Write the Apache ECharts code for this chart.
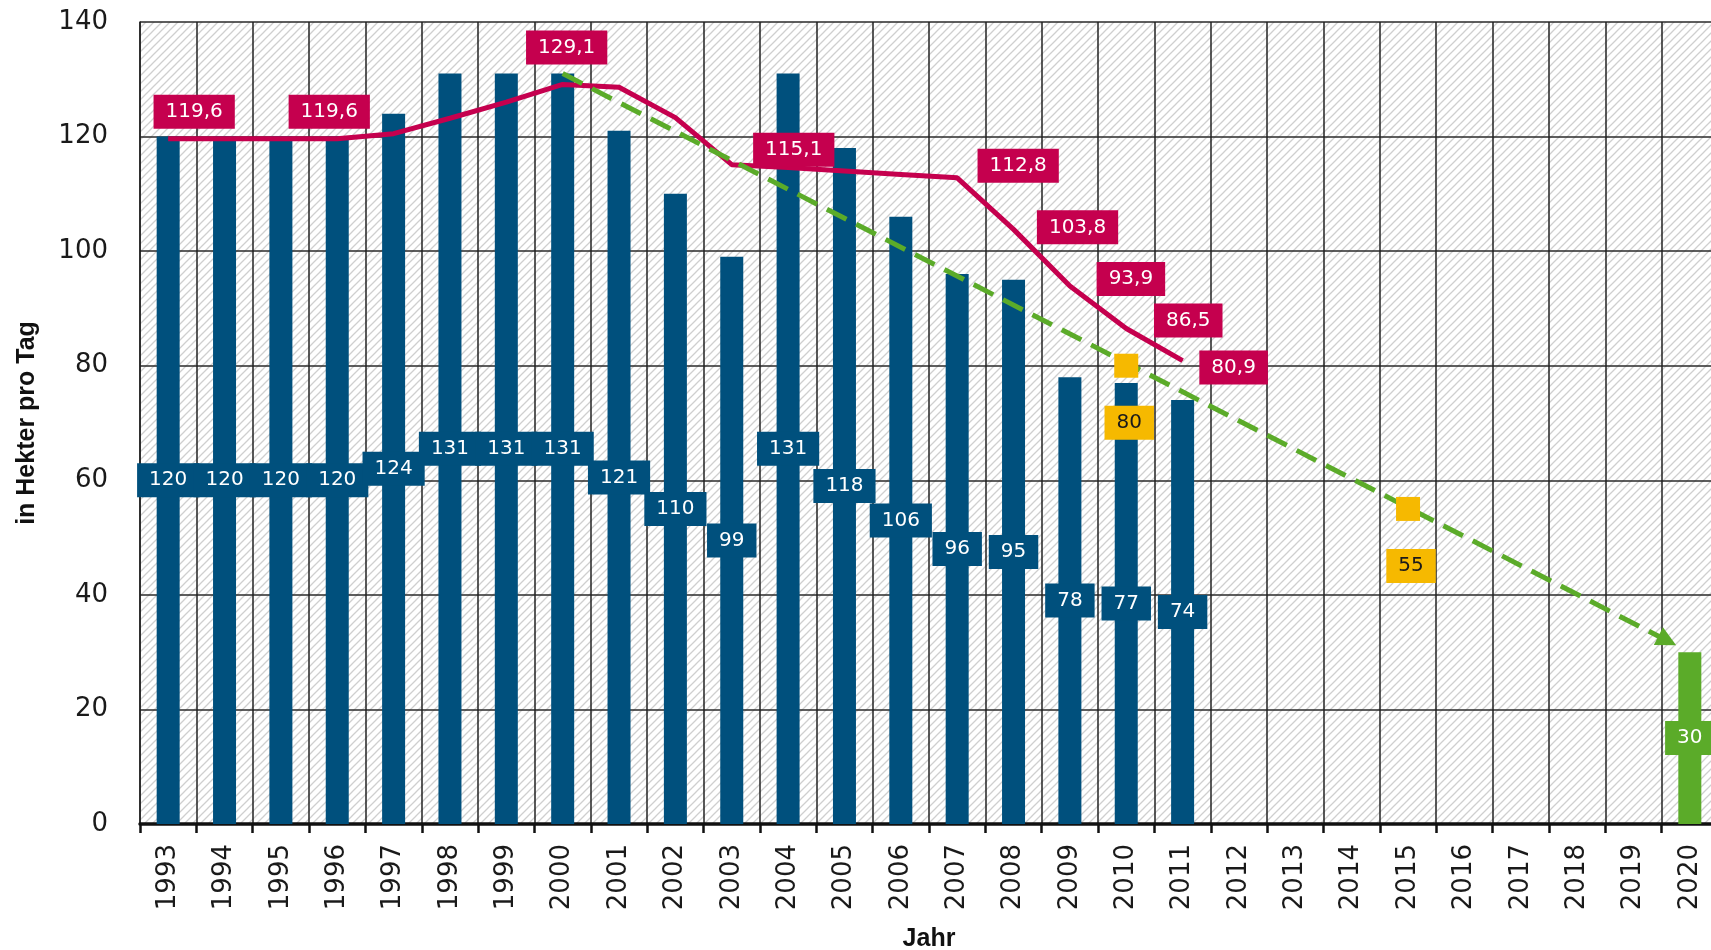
<!DOCTYPE html>
<html>
<head>
<meta charset="utf-8">
<script src="https://cdn.jsdelivr.net/npm/echarts@6/dist/echarts.min.js"></script>
<style>
html,body{margin:0;padding:0;background:#fff;}
#chart{width:1711px;height:950px;}
</style>
</head>
<body>
<div id="chart"></div>
<script>
// ---- data ----
const years = ['1993','1994','1995','1996','1997','1998','1999','2000','2001','2002','2003','2004','2005','2006','2007','2008','2009','2010','2011','2012','2013','2014','2015','2016','2017','2018','2019','2020'];
const flaeche = [120,120,120,120,124,131,131,131,121,110,99,131,118,106,96,95,78,77,74,null,null,null,null,null,null,null,null,null];
const ziel2020 = [null,null,null,null,null,null,null,null,null,null,null,null,null,null,null,null,null,null,null,null,null,null,null,null,null,null,null,30];
const mittel4 = [119.6,119.6,119.6,119.6,120.5,123.2,126.0,129.1,128.6,123.3,115.1,114.6,114.0,113.4,112.8,103.8,93.9,86.5,80.9,null,null,null,null,null,null,null,null,null];
const zwischenziele = [[2010,80],[2015,55]];
const trendLinie = [[2000,131],[2019.6,32]];
const yTicks = [0,20,40,60,80,100,120,140];

// ---- styles ----
const BLUE = '#00507d', RED = '#c5004e', GREEN = '#5bab29', YELLOW = '#f6b900';
const LABEL_FONT = 'DejaVu Sans';
// label offsets for the moving average (style only)
const redLabelOffsets = {
  '1993':[26,-27], '1996':[-8,-27], '2000':[4,-37], '2003':[62,-15],
  '2007':[61,-12], '2008':[64,-2], '2009':[61,-7], '2010':[62,-8], '2011':[51,7]
};

function hatchCanvas(){
  const n = 8;
  const c = document.createElement('canvas');
  c.width = n; c.height = n;
  const g = c.getContext('2d');
  g.fillStyle = '#ffffff'; g.fillRect(0,0,n,n);
  g.strokeStyle = '#cfcfcf'; g.lineWidth = 1.3;
  g.beginPath();
  g.moveTo(-2,n+2); g.lineTo(n+2,-2);
  g.moveTo(-2,2); g.lineTo(2,-2);
  g.moveTo(n-2,n+2); g.lineTo(n+2,n-2);
  g.stroke();
  return c;
}

const chart = echarts.init(document.getElementById('chart'), null, {renderer:'canvas'});

const redData = mittel4.map((v,i) => {
  if (v == null) return null;
  const off = redLabelOffsets[years[i]];
  return off ? {value:v, label:{show:true, offset:off}} : {value:v, label:{show:false}};
});

const boxLabel = (bg, fg) => ({color:fg, fontFamily:LABEL_FONT, fontSize:20, backgroundColor:bg, padding:[7,12]});

const option = {
  backgroundColor: '#ffffff',
  animation: false,
  grid: {
    left: 140, top: 22, width: 1578, height: 802,
    outerBoundsMode: 'none',
    containLabel: false,
    show: true, borderWidth: 0,
    backgroundColor: {image: hatchCanvas(), repeat: 'repeat'}
  },
  xAxis: [{
    type: 'category',
    data: years,
    boundaryGap: true,
    name: 'Jahr',
    nameLocation: 'middle',
    nameGap: 103,
    nameTextStyle: {fontFamily:'Liberation Sans', fontWeight:'bold', fontSize:25, color:'#111', verticalAlign:'top'},
    axisLine: {show:true, lineStyle:{color:'#111', width:3.5}},
    axisTick: {show:true, length:9, lineStyle:{color:'#111', width:2.5}},
    axisLabel: {rotate:90, margin:20, fontFamily:'DejaVu Sans', fontSize:26, color:'#1a1a1a', interval:0},
    splitLine: {show:true, interval:0, lineStyle:{color:'#222', width:1.5}}
  },{
    type: 'value',
    min: 1992.5, max: 2020.5,
    show: false,
    splitLine: {show:false}
  }],
  yAxis: {
    type: 'value',
    min: 0, max: 140, interval: 20,
    name: 'in Hekter pro Tag',
    nameLocation: 'middle',
    nameGap: 100,
    nameTextStyle: {fontFamily:'Liberation Sans', fontWeight:'bold', fontSize:25, color:'#111'},
    axisLine: {show:true, lineStyle:{color:'#222', width:1.5}},
    axisTick: {show:false},
    axisLabel: {margin:32, fontFamily:'DejaVu Sans', fontSize:26, color:'#1a1a1a',
      formatter: v => yTicks.indexOf(v) >= 0 ? String(v) : ''},
    splitLine: {show:true, lineStyle:{color:'#2a2a2a', width:1.5}}
  },
  series: [
    {
      name: 'Flächenverbrauch',
      type: 'bar',
      data: flaeche,
      barWidth: 23,
      barGap: '-100%',
      z: 2,
      itemStyle: {color: BLUE},
      label: Object.assign({show:true, position:'inside', formatter:'{c}'}, boxLabel(BLUE, '#fff'))
    },
    {
      name: 'Ziel 2020',
      type: 'bar',
      data: ziel2020,
      barWidth: 23,
      barGap: '-100%',
      z: 2,
      itemStyle: {color: GREEN},
      label: Object.assign({show:true, position:'inside', formatter:'{c}'}, boxLabel(GREEN, '#fff'))
    },
    {
      name: 'gleitender Vierjahresdurchschnitt',
      type: 'line',
      data: redData,
      z: 4,
      symbol: 'circle', symbolSize: 1, showSymbol: true, showAllSymbol: true,
      itemStyle: {color: RED},
      lineStyle: {color: RED, width: 5},
      label: Object.assign({position:'inside', formatter: p => String(p.value).replace('.', ',')}, boxLabel(RED, '#fff'))
    },
    {
      name: 'Trend',
      type: 'lines',
      coordinateSystem: 'cartesian2d',
      xAxisIndex: 1, yAxisIndex: 0,
      z: 5,
      symbol: ['none','triangle'],
      symbolSize: 20,
      lineStyle: {color: GREEN, width: 5, type: [22,11], opacity: 1},
      data: [{coords: trendLinie}]
    },
    {
      name: 'Zwischenziele',
      type: 'scatter',
      xAxisIndex: 1, yAxisIndex: 0,
      z: 6,
      symbol: 'rect', symbolSize: 24,
      itemStyle: {color: YELLOW, opacity: 1},
      data: zwischenziele,
      label: Object.assign({show:true, position:'bottom', distance:28, offset:[3,0],
        formatter: p => String(p.value[1])}, boxLabel(YELLOW, '#1a1a1a'))
    }
  ]
};
chart.setOption(option);
</script>
</body>
</html>
